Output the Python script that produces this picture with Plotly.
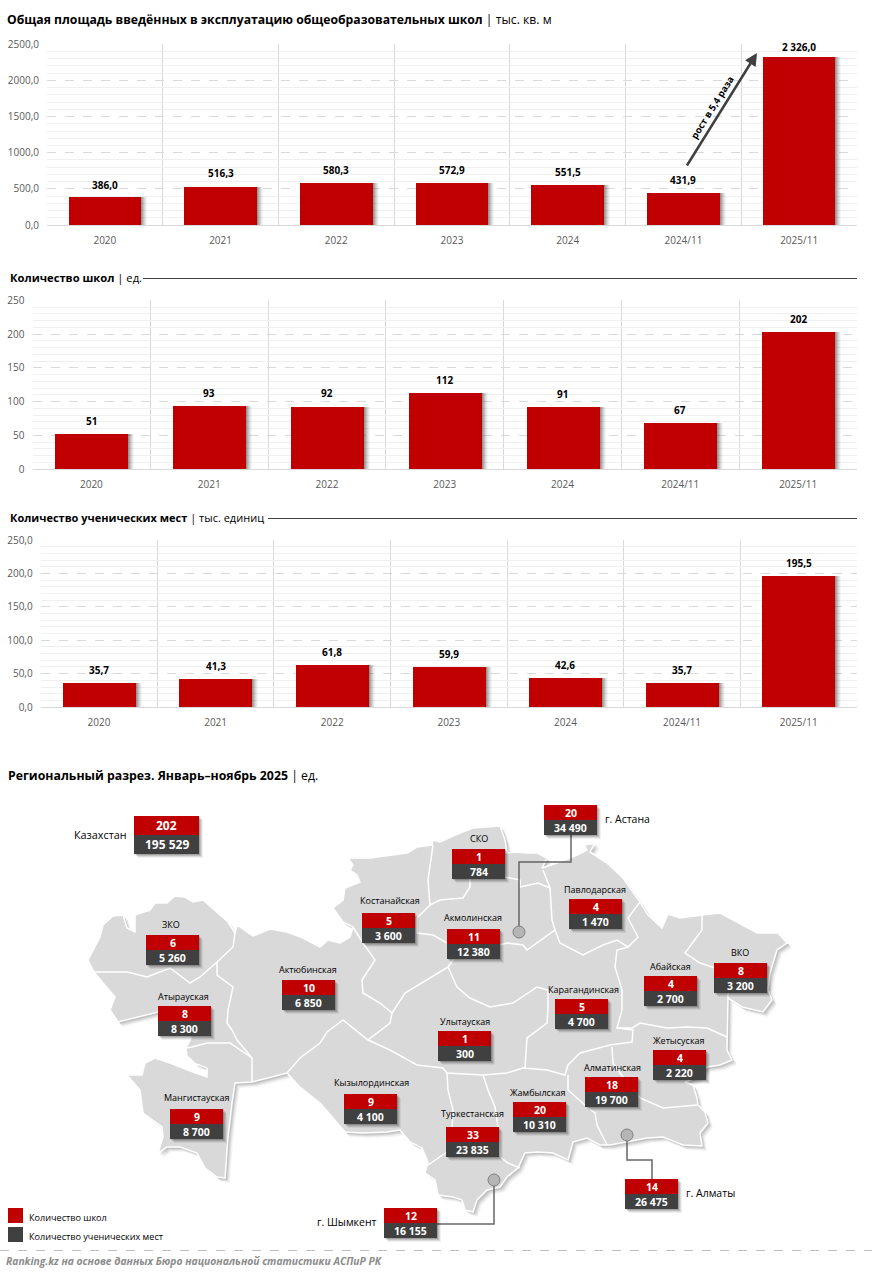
import plotly.graph_objects as go

W, H = 872, 1276
# ---------- data ----------
years = ["2020", "2021", "2022", "2023", "2024", "2024/11", "2025/11"]
area_values = [386.0, 516.3, 580.3, 572.9, 551.5, 431.9, 2326.0]
school_values = [51, 93, 92, 112, 91, 67, 202]
seat_values = [35.7, 41.3, 61.8, 59.9, 42.6, 35.7, 195.5]

region_names = ["СКО", "Павлодарская", "Костанайская", "Акмолинская", "ЗКО", "Актюбинская", "Атырауская",
                "ВКО", "Абайская", "Карагандинская", "Улытауская", "Жетысуская", "Алматинская", "Жамбылская",
                "Туркестанская", "Кызылординская", "Мангистауская"]
region_schools = [1, 4, 5, 11, 6, 10, 8, 8, 4, 5, 1, 4, 18, 20, 33, 9, 9]
region_seats = [784, 1470, 3600, 12380, 5260, 6850, 8300, 3200, 2700, 4700, 300, 2220, 19700, 10310, 23835, 4100, 8700]

city_names = ["Казахстан", "г. Астана", "г. Шымкент", "г. Алматы"]
city_schools = [202, 20, 12, 14]
city_seats = [195529, 34490, 16155, 26475]

# ---------- layout helpers (pixel positions of the picture) ----------
region_box_xy = [(452, 849), (569, 899), (362, 913), (447, 929), (146, 935), (282, 980), (158, 1006),
                 (714, 963), (644, 976), (555, 999), (438, 1031), (653, 1050), (585, 1077), (513, 1102),
                 (446, 1127), (344, 1094), (170, 1109)]
region_label_xy = [(479, 838), (595, 889), (390, 900), (473, 917), (171, 924), (308, 969), (183, 996),
                   (740, 952), (670, 966), (583, 989), (465, 1021), (679, 1040), (612, 1067), (538, 1092),
                   (472, 1113), (371, 1082), (196, 1097)]
city_box_xy = [(544, 805), (384, 1208), (625, 1179)]
area_label_nudge = [1.5, -1.5, 0, 0, 0, 0, 3.5]

map_outline = [
    (88,960),(100,937),(103,925),(113,916),(123,915),(127,928),(135,932),(135,915),(150,910),(155,903),(167,903),
    (175,896),(185,897),(193,902),(203,900),(217,912),(228,922),(235,933),(237,925),(247,932),(253,936),(270,929),
    (287,932),(303,938),(320,947),(328,940),(340,943),(350,937),(353,927),(343,922),(333,908),(343,900),(345,888),
    (360,882),(357,875),(350,870),(353,865),(348,858),(370,858),(407,853),(417,847),(432,845),(433,840),(440,842),
    (460,833),(473,828),(500,826),(505,840),(507,853),(517,852),(527,853),(537,853),(547,858),(542,868),(560,862),
    (577,855),(587,850),(584,845),(595,843),(590,852),(607,863),(623,878),(637,897),(640,902),(648,915),(662,928),
    (668,914),(680,918),(702,915),(720,913),(737,922),(757,933),(778,933),(787,943),(777,950),(770,973),(768,990),
    (772,1000),(763,1012),(742,1007),(728,998),(727,1030),(727,1050),(732,1060),(720,1065),(707,1067),(698,1077),
    (685,1082),(693,1085),(697,1098),(698,1105),(705,1112),(708,1123),(700,1133),(702,1146),(683,1145),(663,1137),
    (647,1138),(627,1142),(610,1145),(600,1145),(587,1138),(573,1142),(568,1160),(553,1153),(537,1152),(525,1153),
    (518,1168),(507,1177),(500,1187),(487,1190),(477,1200),(473,1212),(465,1210),(462,1200),(453,1197),(438,1195),
    (435,1180),(425,1173),(428,1162),(422,1148),(410,1142),(400,1130),(387,1132),(363,1133),(345,1132),(333,1118),
    (320,1103),(300,1087),(287,1073),(252,1082),(235,1083),(232,1103),(228,1137),(225,1178),(217,1177),(205,1168),
    (197,1153),(180,1147),(167,1147),(158,1153),(163,1137),(162,1127),(143,1113),(140,1090),(127,1075),(142,1075),
    (145,1063),(155,1058),(170,1063),(193,1072),(207,1077),(207,1068),(196,1064),(187,1056),(186,1048),(191,1038),
    (178,1022),(158,1012),(118,1022),(110,1010),(115,997),(103,983),(94,972),(88,960)]

map_borders = [
    [(93,972),(110,972),(127,972),(147,977),(170,968),(190,983),(200,977),(217,962)],
    [(235,933),(233,947),(217,962),(217,975),(233,987),(228,1010),(227,1023),(232,1030),(237,1040),(252,1058),(252,1082)],
    [(186,1048),(192,1047),(207,1043),(230,1043),(252,1058)],
    [(353,927),(363,943),(375,960),(362,980),(363,993),(380,1003),(392,1013),(390,1023),(368,1040)],
    [(287,1073),(300,1058),(320,1043),(327,1032),(343,1020),(352,1027),(368,1040),(390,1050),(417,1065),(443,1068),(447,1073),
     (483,1075),(507,1073),(523,1068),(547,1070),(565,1075),(568,1065),(580,1053),(610,1045),(632,1042),(633,1030),(617,1028)],
    [(392,1013),(405,993),(448,967)],
    [(525,1068),(527,1038),(547,1023),(548,1007),(548,990),(537,987),(513,1003),(490,1007),(470,998),(457,987),(448,967)],
    [(448,967),(455,957),(507,943),(523,945),(527,950),(555,930),(560,943),(583,955),(603,945),(617,940),(628,947),(638,937),(628,918),(640,902)],
    [(628,947),(617,950),(615,967),(622,990),(622,1010),(617,1028),(632,1028),(640,1023),(667,1028),(687,1027),(707,1028),(727,1037)],
    [(702,915),(702,930),(685,953),(700,963),(715,968),(728,975),(728,998)],
    [(612,1047),(613,1063),(623,1077),(640,1098),(663,1108),(697,1105)],
    [(568,1075),(568,1090),(587,1107),(595,1113),(597,1125),(607,1145)],
    [(447,1073),(448,1090),(453,1110),(452,1130),(447,1152),(425,1167)],
    [(483,1075),(488,1090),(495,1107),(498,1127),(500,1157),(508,1163),(520,1168)],
    [(433,845),(428,880),(430,905),(417,918),(417,933),(433,935),(447,943)],
    [(430,905),(440,900),(463,898),(470,887),(470,879)],
    [(505,877),(520,880),(520,887),(538,883),(550,888),(543,870)],
    [(550,888),(552,920),(555,930)],
]

connectors = [[(571,835),(571,862),(519,862),(519,932)],
              [(494,1180),(494,1224),(437,1224)],
              [(627,1135),(627,1160),(652,1160),(652,1179)]]
city_dots = [(519,932),(494,1180),(627,1135)]

RED, DARK = "#c00000", "#404040"
FONT = "Open Sans"
CHART_FONT = "Open Sans"

def dom(a, b, size):
    return [a / size, b / size]

charts = [
    dict(vals=area_values, x0=47, y0=44.3, y1=225, top=2500, major=500, minor=100, fmt=".1f", barw=72.5, nudge=area_label_nudge),
    dict(vals=school_values, x0=32.5, y0=300.3, y1=469, top=250, major=50, minor=10, fmt="d", barw=73, nudge=[0] * 7),
    dict(vals=seat_values, x0=40.7, y0=540.3, y1=707, top=250, major=50, minor=10, fmt=".1f", barw=73, nudge=[0] * 7),
]
X1 = 857

def lab(v, dec):
    s = f"{v:,.{dec}f}".replace(",", " ").replace(".", ",")
    return s

fig = go.Figure()
layout = dict(width=W, height=H, autosize=False, margin=dict(l=0, r=0, t=0, b=0, pad=0, autoexpand=False), paper_bgcolor="white",
              plot_bgcolor="rgba(0,0,0,0)", showlegend=False, separators=", ", bargap=0,
              barmode="overlay", font=dict(family=FONT, color="#000000"), hovermode=False)
annotations, shapes = [], []
xs = list(range(7))

for i, c in enumerate(charts):
    n = i + 1
    xn, yn = f"x{n}", f"y{n}"
    step = (X1 - c["x0"]) / 7
    bw = c["barw"] / step
    for dx, alpha in [(6, .04), (5, .05), (4, .07), (3, .09), (2, .11), (1, .13)]:
        fig.add_trace(go.Bar(x=xs, y=c["vals"], width=bw, offset=-bw / 2 + dx / step,
                             marker=dict(color=f"rgba(0,0,0,{alpha})", line_width=0), xaxis=xn, yaxis=yn))
    fig.add_trace(go.Bar(x=xs, y=c["vals"], width=bw, marker=dict(color=RED, line_width=0), xaxis=xn, yaxis=yn))
    layout[f"xaxis{n}"] = dict(domain=dom(c["x0"], X1, W), range=[-.5, 6.5], anchor=yn, tickmode="array", tickvals=xs,
                               ticktext=years, showgrid=False, zeroline=False, showline=True, linecolor="#d9d9d9", linewidth=1,
                               tickfont=dict(family=CHART_FONT, size=10, color="#595959"), ticks="", ticklabelstandoff=6,
                               minor=dict(tickmode="array", tickvals=[v + .5 for v in [-1] + xs], showgrid=True,
                                          gridcolor="#d9d9d9", gridwidth=1, griddash="solid", ticks=""))
    layout[f"yaxis{n}"] = dict(domain=[1 - c["y1"] / H, 1 - c["y0"] / H], range=[0, c["top"]], anchor=xn, dtick=c["major"],
                               tick0=0, tickformat=c["fmt"], showgrid=True, gridcolor="#d9d9d9", griddash="dash", gridwidth=1,
                               zeroline=False, showline=False, ticks="", ticklabelstandoff=7,
                               tickfont=dict(family=CHART_FONT, size=10, color="#595959"),
                               minor=dict(dtick=c["minor"], showgrid=True, gridcolor="#f0f0f0", gridwidth=1, griddash="solid", ticks=""))
    dec = 0 if c["fmt"] == "d" else 1
    for k, v in enumerate(c["vals"]):
        annotations.append(dict(x=k, y=v, xref=xn, yref=yn, text=f"<b>{lab(v, dec)}</b>", showarrow=False, yanchor="bottom",
                                yshift=4.5 - c["nudge"][k], font=dict(family=CHART_FONT, size=10, color="#000000")))

# ---------- pixel overlay ----------
layout["xaxis4"] = dict(domain=[0, 1], range=[0, W], visible=False, anchor="y4")
layout["yaxis4"] = dict(domain=[0, 1], range=[H, 0], visible=False, anchor="x4")
px = dict(xref="x4", yref="y4")

mx = [p[0] for p in map_outline]
my = [p[1] for p in map_outline]
for d, alpha in [(5, .04), (4, .05), (3, .07), (2, .09)]:
    fig.add_trace(go.Scatter(x=[v + d for v in mx], y=[v + d for v in my], mode="lines", fill="toself", line_width=0,
                             fillcolor=f"rgba(0,0,0,{alpha})", xaxis="x4", yaxis="y4"))
fig.add_trace(go.Scatter(x=mx, y=my, mode="lines", fill="toself", fillcolor="#d9d9d9", xaxis="x4", yaxis="y4",
                         line=dict(color="white", width=1.5)))
bx, by = [], []
for seg in map_borders:
    bx += [p[0] for p in seg] + [None]
    by += [p[1] for p in seg] + [None]
fig.add_trace(go.Scatter(x=bx, y=by, mode="lines", line=dict(color="white", width=1.5), xaxis="x4", yaxis="y4"))

def text(x, y, s, size, anchor="center", color="#000000", family=FONT, angle=0):
    annotations.append(dict(x=x, y=y, text=s, showarrow=False, xanchor=anchor, yanchor="middle", textangle=angle,
                            font=dict(family=family, size=size, color=color), **px))

for seg in connectors:
    fig.add_trace(go.Scatter(x=[p[0] for p in seg], y=[p[1] for p in seg], mode="lines",
                             line=dict(color="#666666", width=1.5), xaxis="x4", yaxis="y4"))
fig.add_trace(go.Scatter(x=[p[0] for p in city_dots], y=[p[1] for p in city_dots], mode="markers",
                         marker=dict(size=12, color="#b5b5b5", line=dict(color="#7f7f7f", width=1)), xaxis="x4", yaxis="y4"))

def box(x, y, sch, seat, w=53, h1=15, h2=15, fs=10.5):
    for d, a in [(4, .06), (3, .09), (2, .12), (1, .15)]:
        shapes.append(dict(type="rect", x0=x + d, x1=x + w + d, y0=y + d, y1=y + h1 + h2 + d, line_width=0,
                           fillcolor=f"rgba(0,0,0,{a})", **px))
    shapes.append(dict(type="rect", x0=x, x1=x + w, y0=y, y1=y + h1, line_width=0, fillcolor=RED, **px))
    shapes.append(dict(type="rect", x0=x, x1=x + w, y0=y + h1, y1=y + h1 + h2, line_width=0, fillcolor=DARK, **px))
    text(x + w / 2, y + h1 / 2, f"<b>{sch}</b>", fs, color="white")
    text(x + w / 2, y + h1 + h2 / 2, f"<b>{lab(seat, 0)}</b>", fs, color="white")

for name, sch, seat, (x, y), (lx, ly) in zip(region_names, region_schools, region_seats, region_box_xy, region_label_xy):
    box(x, y, sch, seat)
    text(lx, ly, name, 9)

box(134, 816, city_schools[0], city_seats[0], w=65, h1=19, h2=19, fs=12)
for (x, y), sch, seat in zip(city_box_xy, city_schools[1:], city_seats[1:]):
    box(x, y, sch, seat)
text(129, 834, city_names[0], 10.8, "right")
text(603, 819, city_names[1], 10.5, "left")
text(379, 1222, city_names[2], 10.5, "right")
text(684, 1193, city_names[3], 10.5, "left")

# titles, rules
text(5, 19, "<b>Общая площадь введённых в эксплуатацию общеобразовательных школ</b> | тыс. кв. м", 12.2, "left")
text(8, 277, "<b>Количество школ</b> | ед.", 11.2, "left")
text(8, 517, "<b>Количество ученических мест</b> | тыс. единиц", 11, "left")
text(6, 775, "<b>Региональный разрез. Январь–ноябрь 2025</b> | ед.", 12.3, "left")
shapes.append(dict(type="line", x0=143, x1=857, y0=278.5, y1=278.5, line=dict(color="#404040", width=1), **px))
shapes.append(dict(type="line", x0=268, x1=857, y0=518.5, y1=518.5, line=dict(color="#404040", width=1), **px))
shapes.append(dict(type="line", x0=0, x1=W, y0=1250.5, y1=1250.5, line=dict(color="#bfbfbf", width=1, dash="dash"), **px))

# arrow
annotations.append(dict(x=757, y=53, ax=686, ay=167, axref="x4", ayref="y4", text="", showarrow=True, arrowhead=2, arrowsize=1,
                        arrowwidth=2.5, arrowcolor=DARK, **px))
text(712, 107, "<b>рост в 5,4 раза</b>", 9.5, angle=-58, family=CHART_FONT)

# legend
shapes.append(dict(type="rect", x0=8, x1=23, y0=1208, y1=1223, line_width=0, fillcolor=RED, **px))
shapes.append(dict(type="rect", x0=8, x1=23, y0=1227, y1=1242, line_width=0, fillcolor=DARK, **px))
text(27, 1217, "Количество школ", 9.1, "left")
text(27, 1236, "Количество ученических мест", 9.1, "left")
text(4, 1261, "<b><i>Ranking.kz на основе данных Бюро национальной статистики АСПиР РК</i></b>", 10.3, "left", color="#8c8c8c")

layout["annotations"] = annotations
layout["shapes"] = shapes
fig.update_layout(**layout)
fig.write_html("out.html", config=dict(displayModeBar=False),
               post_script="document.body.style.margin='0';document.documentElement.style.overflow='hidden';")
